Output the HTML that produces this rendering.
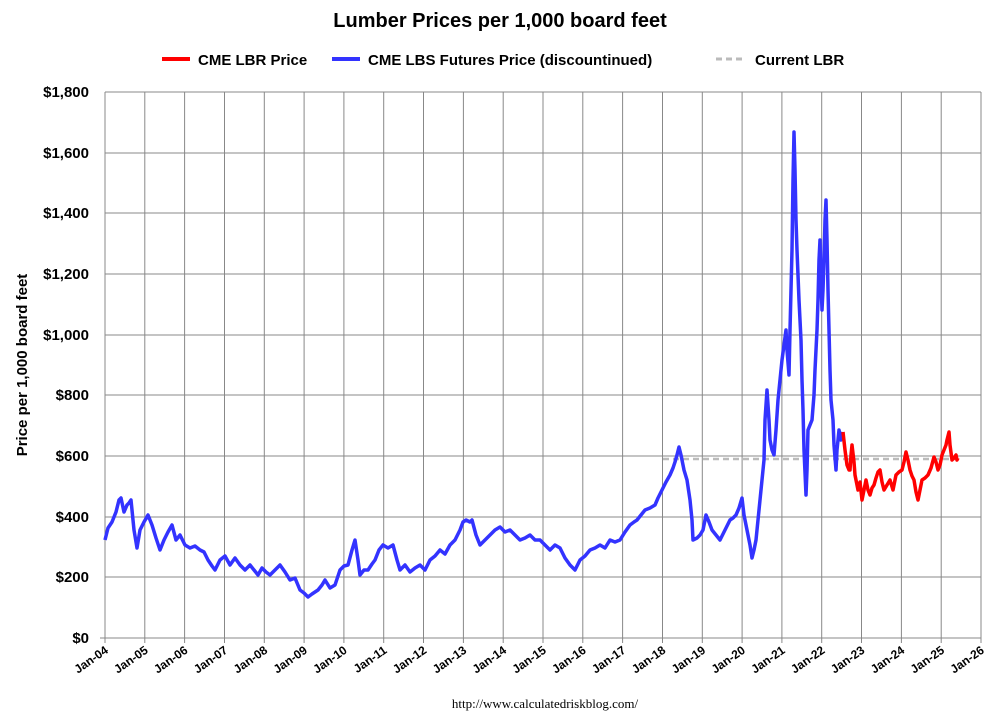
<!DOCTYPE html>
<html><head><meta charset="utf-8"><style>
body{margin:0;background:#fff;}
svg{display:block;font-family:"Liberation Sans",Arial,sans-serif;}
</style></head><body>
<svg width="999" height="724" viewBox="0 0 999 724" xmlns="http://www.w3.org/2000/svg">
<rect width="999" height="724" fill="#fff"/>
<text x="500" y="27" text-anchor="middle" font-size="20" font-weight="bold">Lumber Prices per 1,000 board feet</text>
<g font-size="15" font-weight="bold">
<line x1="162" y1="59" x2="190" y2="59" stroke="#ff0000" stroke-width="4"/>
<text x="198" y="65">CME LBR Price</text>
<line x1="332" y1="59" x2="360" y2="59" stroke="#3333ff" stroke-width="4"/>
<text x="368" y="65">CME LBS Futures Price (discountinued)</text>
<line x1="716" y1="59" x2="746" y2="59" stroke="#bbb" stroke-width="3" stroke-dasharray="6,4"/>
<text x="755" y="65">Current LBR</text>
</g>
<g stroke="#888" stroke-width="1">
<line x1="105" y1="92" x2="981" y2="92"/><line x1="105" y1="153" x2="981" y2="153"/><line x1="105" y1="213" x2="981" y2="213"/><line x1="105" y1="274" x2="981" y2="274"/><line x1="105" y1="335" x2="981" y2="335"/><line x1="105" y1="395" x2="981" y2="395"/><line x1="105" y1="456" x2="981" y2="456"/><line x1="105" y1="517" x2="981" y2="517"/><line x1="105" y1="577" x2="981" y2="577"/><line x1="100" y1="638" x2="981" y2="638"/>
<line x1="105" y1="92" x2="105" y2="643"/><line x1="144.8" y1="92" x2="144.8" y2="643"/><line x1="184.6" y1="92" x2="184.6" y2="643"/><line x1="224.5" y1="92" x2="224.5" y2="643"/><line x1="264.3" y1="92" x2="264.3" y2="643"/><line x1="304.1" y1="92" x2="304.1" y2="643"/><line x1="343.9" y1="92" x2="343.9" y2="643"/><line x1="383.7" y1="92" x2="383.7" y2="643"/><line x1="423.5" y1="92" x2="423.5" y2="643"/><line x1="463.4" y1="92" x2="463.4" y2="643"/><line x1="503.2" y1="92" x2="503.2" y2="643"/><line x1="543" y1="92" x2="543" y2="643"/><line x1="582.8" y1="92" x2="582.8" y2="643"/><line x1="622.6" y1="92" x2="622.6" y2="643"/><line x1="662.5" y1="92" x2="662.5" y2="643"/><line x1="702.3" y1="92" x2="702.3" y2="643"/><line x1="742.1" y1="92" x2="742.1" y2="643"/><line x1="781.9" y1="92" x2="781.9" y2="643"/><line x1="821.7" y1="92" x2="821.7" y2="643"/><line x1="861.5" y1="92" x2="861.5" y2="643"/><line x1="901.4" y1="92" x2="901.4" y2="643"/><line x1="941.2" y1="92" x2="941.2" y2="643"/><line x1="981" y1="92" x2="981" y2="643"/>
</g>
<g font-size="15" font-weight="bold" text-anchor="end">
<text x="89" y="97">$1,800</text><text x="89" y="158">$1,600</text><text x="89" y="218">$1,400</text><text x="89" y="279">$1,200</text><text x="89" y="340">$1,000</text><text x="89" y="400">$800</text><text x="89" y="461">$600</text><text x="89" y="522">$400</text><text x="89" y="582">$200</text><text x="89" y="643">$0</text>
</g>
<text transform="translate(27,365) rotate(-90)" text-anchor="middle" font-size="15" font-weight="bold">Price per 1,000 board feet</text>
<g font-size="12" font-weight="bold" text-anchor="end">
<text transform="translate(109,652) rotate(-35)">Jan-04</text>
<text transform="translate(148.8,652) rotate(-35)">Jan-05</text>
<text transform="translate(188.6,652) rotate(-35)">Jan-06</text>
<text transform="translate(228.5,652) rotate(-35)">Jan-07</text>
<text transform="translate(268.3,652) rotate(-35)">Jan-08</text>
<text transform="translate(308.1,652) rotate(-35)">Jan-09</text>
<text transform="translate(347.9,652) rotate(-35)">Jan-10</text>
<text transform="translate(387.7,652) rotate(-35)">Jan-11</text>
<text transform="translate(427.5,652) rotate(-35)">Jan-12</text>
<text transform="translate(467.4,652) rotate(-35)">Jan-13</text>
<text transform="translate(507.2,652) rotate(-35)">Jan-14</text>
<text transform="translate(547,652) rotate(-35)">Jan-15</text>
<text transform="translate(586.8,652) rotate(-35)">Jan-16</text>
<text transform="translate(626.6,652) rotate(-35)">Jan-17</text>
<text transform="translate(666.5,652) rotate(-35)">Jan-18</text>
<text transform="translate(706.3,652) rotate(-35)">Jan-19</text>
<text transform="translate(746.1,652) rotate(-35)">Jan-20</text>
<text transform="translate(785.9,652) rotate(-35)">Jan-21</text>
<text transform="translate(825.7,652) rotate(-35)">Jan-22</text>
<text transform="translate(865.5,652) rotate(-35)">Jan-23</text>
<text transform="translate(905.4,652) rotate(-35)">Jan-24</text>
<text transform="translate(945.2,652) rotate(-35)">Jan-25</text>
<text transform="translate(985,652) rotate(-35)">Jan-26</text>
</g>
<text x="545" y="708" text-anchor="middle" font-size="13" font-family="Liberation Serif,serif">http://www.calculatedriskblog.com/</text>
<line x1="663" y1="459" x2="958" y2="459" stroke="#bbb" stroke-width="2.5" stroke-dasharray="6,4"/>
<polyline fill="none" stroke="#3333ff" stroke-width="3.5" stroke-linejoin="round" points="105,540 108,528 112,522 116,512 119,500 121,498 124,512 127,505 129,503 131,500 134,530 137,548 140,530 144,522 148,515 152,525 156,538 160,550 164,540 168,532 172,525 176,540 180,535 185,545 190,548 195,546 200,550 204,552 208,560 212,566 215,570 220,560 225,556 230,565 235,558 240,565 245,570 250,565 254,570 258,575 262,568 266,572 270,575 275,570 280,565 285,572 290,580 295,578 300,590 304,593 308,597 312,594 318,590 322,585 325,580 330,588 335,585 340,570 344,566 348,565 352,550 355,540 358,560 360,575 364,570 368,570 372,564 375,560 379,550 383,545 388,548 393,545 397,560 400,570 405,565 410,572 415,568 420,565 425,570 430,560 435,556 440,550 445,554 450,545 455,540 460,530 463,522 466,520 470,522 472,520 476,535 480,545 485,540 490,535 495,530 500,527 505,532 510,530 515,535 520,540 525,538 530,535 535,540 540,540 545,545 550,550 555,545 560,548 565,558 570,565 575,570 580,560 585,556 590,550 595,548 600,545 605,548 610,540 615,542 620,540 625,532 630,525 634,522 637,520 641,515 645,510 650,508 655,505 658,498 662,490 666,482 670,475 673,468 675,462 677,455 679,447 681,455 684,470 687,480 690,500 692,520 693,540 697,538 700,535 703,530 706,515 709,522 712,530 716,535 720,540 725,530 730,520 733,518 736,515 739,508 742,498 744,515 747,530 750,545 752,558 754,550 756,540 758,520 760,500 762,480 764,460 765,420 767,390 769,420 770,440 772,450 774,455 776,430 778,400 780,380 782,360 784,345 786,330 787,350 789,375 790,330 791,290 792,250 793,180 794,132 795,170 796,220 797,250 799,300 801,340 802,380 803,410 804,450 806,495 807,470 808,430 810,425 812,420 814,395 815,370 817,330 818,300 819,260 820,240 821,280 822,310 823,290 824,260 825,220 826,200 827,240 828,290 829,330 830,370 831,400 833,420 834,445 836,470 837,450 839,430 841,440 843,432"/>
<polyline fill="none" stroke="#ff0000" stroke-width="3.5" stroke-linejoin="round" points="843,432 845,450 847,465 849,470 850,470 851,455 852,445 854,462 855,475 857,485 858,490 860,482 862,500 864,490 866,480 868,490 870,495 872,488 874,485 876,478 878,472 880,470 882,482 884,490 887,485 890,480 893,490 896,475 899,472 902,470 904,462 906,452 908,460 910,470 912,476 914,480 916,492 918,500 920,490 922,480 925,478 928,475 931,468 934,457 936,462 938,470 940,465 942,455 944,450 946,445 947,440 949,432 950,445 952,460 954,458 956,455 957,460 958,458"/>
</svg>
</body></html>
